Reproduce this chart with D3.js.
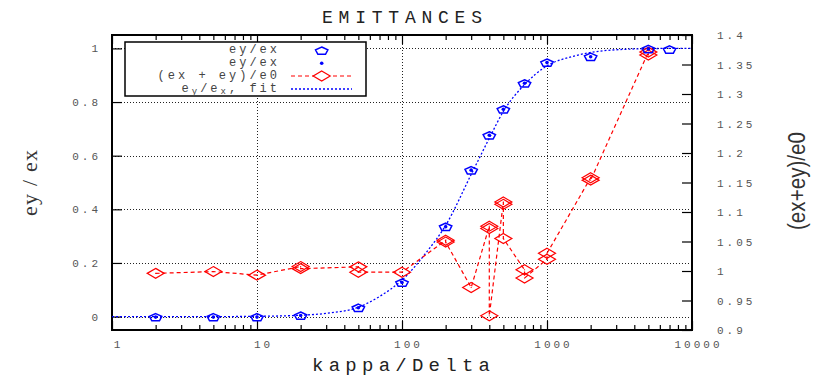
<!DOCTYPE html>
<html>
<head>
<meta charset="utf-8">
<script src="https://cdn.jsdelivr.net/npm/d3@7"></script>
<style>
  body { margin: 0; background: #fff; }
  svg { display: block; }
</style>
</head>
<body>
<svg id="chart" width="815" height="375"></svg>
<script>
// ---- data ----
// ey/ex (open pentagons)
const pentX = [2, 5, 10, 20, 50, 100, 200, 300, 400, 500, 700, 1000, 2000, 5000, 7000];
const pentY = [0, 0, 0, 0.006, 0.035, 0.129, 0.337, 0.548, 0.678, 0.775, 0.872, 0.949, 0.971, 1.0, 0.998];
// ey/ex (small dots)
const dotX = [2, 5, 10, 20, 50, 100, 200, 300, 400, 500, 700, 1000, 2000, 5000];
const dotY = [0, 0, 0, 0.006, 0.035, 0.129, 0.337, 0.548, 0.678, 0.775, 0.872, 0.949, 0.971, 1.0];
// (ex + ey)/e0 on the right axis, in plotting order
const sumX = [2, 5, 10, 20, 20, 50, 50, 100, 200, 200, 300, 400, 400, 400, 500, 500, 500, 700, 700, 1000, 1000, 2000, 2000, 5000, 5000];
const sumY = [0.996, 0.999, 0.993, 1.0075, 1.004, 1.007, 0.998, 0.998, 1.052, 1.049, 0.972, 1.076, 1.072, 0.924, 1.117, 1.113, 1.055, 1.002, 0.988, 1.020, 1.030, 1.158, 1.154, 1.371, 1.366];
// ey/ex fit curve
const fitX = [1, 2, 5, 10, 20, 30, 50, 70, 100, 150, 200, 300, 400, 500, 700, 1000, 1500, 2000, 3000, 5000, 7000, 10000];
const fitY = [0, 0, 0, 0.001, 0.005, 0.012, 0.035, 0.075, 0.136, 0.245, 0.34, 0.53, 0.665, 0.765, 0.865, 0.935, 0.97, 0.985, 0.995, 0.999, 1.0, 1.0];

// axis ticks
const xTicks = [1, 10, 100, 1000, 10000];
const xTickLabels = ["1", "10", "100", "1000", "10000"];
const yLeftTicks = [0, 0.2, 0.4, 0.6, 0.8, 1];
const yLeftLabels = ["0", "0.2", "0.4", "0.6", "0.8", "1"];
const yRightTicks = [0.9, 0.95, 1, 1.05, 1.1, 1.15, 1.2, 1.25, 1.3, 1.35, 1.4];
const yRightLabels = ["0.9", "0.95", "1", "1.05", "1.1", "1.15", "1.2", "1.25", "1.3", "1.35", "1.4"];

// ---- layout ----
const L = 112, R = 692, T = 35, B = 330;
const BLUE = "#0000ff", RED = "#ff0000";
const MONO = "'Liberation Mono', 'DejaVu Sans Mono', monospace";

const svg = d3.select("#chart");
const x = d3.scaleLog().domain([1, 10000]).range([L, R]);
const yL = d3.scaleLinear().domain([-0.05, 1.05]).range([B, T]);
const yR = d3.scaleLinear().domain([0.9, 1.4]).range([B, T]);

// minor log ticks 2..9 per decade
const minorTicks = [];
for (let d = 1; d < 10000; d *= 10) for (let k = 2; k <= 9; k++) minorTicks.push(d * k);

// ---- grid ----
const grid = svg.append("g").attr("stroke", "#222").attr("stroke-width", 1)
  .attr("stroke-dasharray", "1,2");
grid.selectAll("line.h").data(yLeftTicks).join("line")
  .attr("x1", L).attr("x2", R)
  .attr("y1", d => Math.round(yL(d)) + 0.5).attr("y2", d => Math.round(yL(d)) + 0.5);
grid.selectAll("line.v").data([10, 100, 1000]).join("line")
  .attr("y1", T).attr("y2", B)
  .attr("x1", d => Math.round(x(d)) + 0.5).attr("x2", d => Math.round(x(d)) + 0.5);

// ---- axes (inward ticks) ----
function styleAxis(g) {
  g.select(".domain").remove();
  g.selectAll(".tick line").attr("stroke", "#000").attr("stroke-width", 1.2);
  g.selectAll(".tick text").attr("fill", "#555").attr("font-family", MONO)
    .attr("font-size", 11).attr("letter-spacing", "3px");
}
svg.append("g").attr("transform", `translate(0,${B})`)
  .call(d3.axisBottom(x).tickValues(minorTicks).tickSize(-5).tickFormat(""))
  .call(styleAxis);
svg.append("g").attr("transform", `translate(0,${T})`)
  .call(d3.axisTop(x).tickValues(minorTicks).tickSize(-5).tickFormat(""))
  .call(styleAxis);
svg.append("g").attr("transform", `translate(0,${T})`)
  .call(d3.axisTop(x).tickValues(xTicks).tickSize(-9).tickFormat(""))
  .call(styleAxis);
const xAxis = svg.append("g").attr("transform", `translate(0,${B})`)
  .call(d3.axisBottom(x).tickValues(xTicks).tickSize(-9).tickPadding(10)
    .tickFormat((d, i) => xTickLabels[i]))
  .call(styleAxis);
xAxis.selectAll(".tick text").attr("dx", 6).attr("dy", 0).attr("y", 18);

const yAxisL = svg.append("g").attr("transform", `translate(${L},0)`)
  .call(d3.axisLeft(yL).tickValues(yLeftTicks).tickSize(-10).tickPadding(14)
    .tickFormat((d, i) => yLeftLabels[i]))
  .call(styleAxis);
yAxisL.selectAll(".tick text").attr("dx", 3);

svg.append("g").attr("transform", `translate(${R},0)`)
  .call(d3.axisRight(yR).tickValues(yRightTicks).tickSize(-10).tickPadding(25)
    .tickFormat((d, i) => yRightLabels[i]))
  .call(styleAxis);

// frame
svg.append("rect").attr("x", L).attr("y", T).attr("width", R - L).attr("height", B - T)
  .attr("fill", "none").attr("stroke", "#000").attr("stroke-width", 2);

// ---- marker shapes ----
function pentagonPath(cx, cy) {
  const r = 6.5, sy = 0.62, pts = [];
  for (let k = 0; k < 5; k++) {
    const a = -Math.PI / 2 + k * 2 * Math.PI / 5;
    pts.push([cx + r * Math.cos(a), cy + 1.0 + r * Math.sin(a) * sy]);
  }
  return d3.line()(pts) + "Z";
}
function diamondPath(cx, cy) {
  const w = 8.5, h = 5;
  return d3.line()([[cx, cy - h], [cx + w, cy], [cx, cy + h], [cx - w, cy]]) + "Z";
}

// ---- plot content ----
const plot = svg.append("g");

// fit curve
plot.append("path")
  .datum(fitX.map((d, i) => [d, fitY[i]]))
  .attr("fill", "none").attr("stroke", BLUE).attr("stroke-width", 1.3)
  .attr("stroke-dasharray", "2,2")
  .attr("d", d3.line().x(d => x(d[0])).y(d => yL(d[1])).curve(d3.curveMonotoneX));

// (ex+ey)/e0 line + diamonds
const sumPts = sumX.map((d, i) => [d, sumY[i]]);
plot.append("path").datum(sumPts)
  .attr("fill", "none").attr("stroke", RED).attr("stroke-width", 1.2)
  .attr("stroke-dasharray", "4,3")
  .attr("d", d3.line().x(d => x(d[0])).y(d => yR(d[1])));
plot.selectAll("path.dia").data(sumPts).join("path").attr("class", "dia")
  .attr("d", d => diamondPath(x(d[0]), yR(d[1])))
  .attr("fill", "none").attr("stroke", RED).attr("stroke-width", 1.2);
plot.selectAll("rect.diadot").data(sumPts).join("rect").attr("class", "diadot")
  .attr("x", d => x(d[0]) - 0.5).attr("y", d => yR(d[1]) - 0.5)
  .attr("width", 1).attr("height", 1).attr("fill", RED);

// ey/ex pentagons
plot.selectAll("path.pent").data(pentX.map((d, i) => [d, pentY[i]])).join("path")
  .attr("class", "pent")
  .attr("d", d => pentagonPath(x(d[0]), yL(d[1])))
  .attr("fill", "none").attr("stroke", BLUE).attr("stroke-width", 1.5);

// ey/ex dots
plot.selectAll("circle.dot").data(dotX.map((d, i) => [d, dotY[i]])).join("circle")
  .attr("class", "dot")
  .attr("cx", d => x(d[0])).attr("cy", d => yL(d[1]) + 0.5).attr("r", 1.8)
  .attr("fill", BLUE);

// ---- legend ----
const lg = svg.append("g");
lg.append("rect").attr("x", 125).attr("y", 42).attr("width", 241).attr("height", 54)
  .attr("fill", "#fff").attr("stroke", "#000").attr("stroke-width", 1.5);
const rows = [50, 63.3, 76, 89];
const lgText = (y, txt) => lg.append("text").attr("x", 280).attr("y", y)
  .attr("text-anchor", "end").attr("dominant-baseline", "central")
  .attr("font-family", MONO).attr("font-size", 12).attr("letter-spacing", "3px")
  .attr("fill", "#444").text(txt);
lgText(rows[0], "ey/ex");
lgText(rows[1], "ey/ex");
lgText(rows[2], "(ex + ey)/e0");
const t4 = lgText(rows[3], "");
t4.append("tspan").text("e");
t4.append("tspan").attr("dy", 3).attr("font-size", 9).text("y");
t4.append("tspan").attr("dy", -3).text("/e");
t4.append("tspan").attr("dy", 3).attr("font-size", 9).text("x");
t4.append("tspan").attr("dy", -3).text(", fit");

const sx = 321.7;
lg.append("path").attr("d", pentagonPath(sx, rows[0]))
  .attr("fill", "none").attr("stroke", BLUE).attr("stroke-width", 1.5);
lg.append("circle").attr("cx", sx).attr("cy", rows[1]).attr("r", 1.8).attr("fill", BLUE);
lg.append("line").attr("x1", 291).attr("x2", 352).attr("y1", rows[2]).attr("y2", rows[2])
  .attr("stroke", RED).attr("stroke-width", 1.2).attr("stroke-dasharray", "4,3");
lg.append("path").attr("d", diamondPath(sx, rows[2]))
  .attr("fill", "#fff").attr("stroke", RED).attr("stroke-width", 1.2);
lg.append("line").attr("x1", 291).attr("x2", 352).attr("y1", rows[3]).attr("y2", rows[3])
  .attr("stroke", BLUE).attr("stroke-width", 1.3).attr("stroke-dasharray", "2,2");

// ---- titles and axis labels ----
svg.append("text").attr("x", 402).attr("y", 22.5).attr("text-anchor", "middle")
  .attr("font-family", MONO).attr("font-size", 18).attr("fill", "#222")
  .attr("textLength", 160).attr("lengthAdjust", "spacing").text("EMITTANCES");
svg.append("text").attr("x", 401).attr("y", 370.5).attr("text-anchor", "middle")
  .attr("font-family", MONO).attr("font-size", 19).attr("fill", "#222")
  .attr("textLength", 178).attr("lengthAdjust", "spacing").text("kappa/Delta");
svg.append("text").attr("transform", "translate(37,183) rotate(-90)")
  .attr("text-anchor", "middle").attr("font-family", "'Liberation Serif', serif")
  .attr("font-size", 22).attr("fill", "#333")
  .attr("textLength", 66).attr("lengthAdjust", "spacing").text("ey / ex");
svg.append("text").attr("transform", "translate(805,181) rotate(-90)")
  .attr("text-anchor", "middle").attr("font-family", "'Liberation Sans Narrow', 'Liberation Sans', sans-serif")
  .attr("font-size", 23).attr("fill", "#333")
  .attr("textLength", 98).attr("lengthAdjust", "spacingAndGlyphs").text("(ex+ey)/e0");
</script>
</body>
</html>
